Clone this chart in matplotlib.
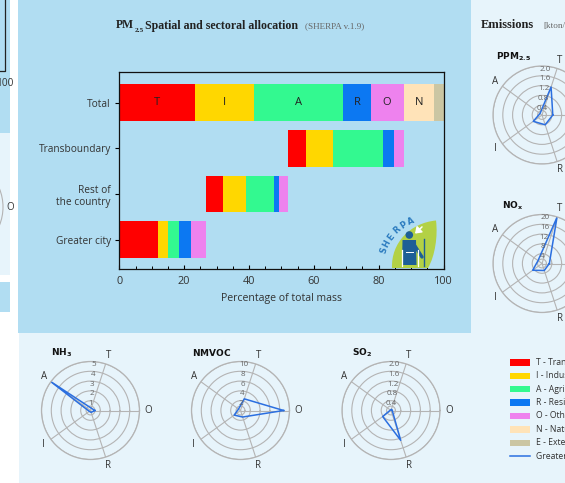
import numpy as np
import matplotlib
matplotlib.use("Agg")
import matplotlib.pyplot as plt
from matplotlib.patches import Rectangle, Circle, PathPatch, Polygon
from matplotlib.path import Path

plt.rcParams["font.family"] = ["Open Sans", "DejaVu Sans"]
plt.rcParams["mathtext.fontset"] = "dejavusans"

W, H = 565, 483

# ---------------- data ----------------
sectors = ["T", "I", "A", "R", "O"]
extra_sectors = ["N", "E"]
sector_names = ["T - Transport", "I - Industry", "A - Agriculture",
                "R - Residential", "O - Other", "N - Natural", "E - External"]
sector_colors = ["#ff0000", "#ffd700", "#33f990", "#0c78f2",
                 "#ee82ee", "#ffe3b8", "#cbc6a3"]

# share of total PM2.5 mass (%) per sector and origin
greater_city = [12.0, 3.0, 3.4, 3.8, 4.4]
rest_of_country = [5.5, 6.9, 8.8, 1.4, 2.7]
transboundary = [5.7, 8.4, 15.4, 3.2, 3.1]
natural = 9.3
external = 3.0
bar_labels = ["Greater city", "Rest of\nthe country", "Transboundary", "Total"]
x_ticks = [0, 20, 40, 60, 80, 100]

# greater-city emissions per sector (T, I, A, R, O), kton/year
radar_angles = [72, 216, 144, 288, 0]
emis_ppm25 = [1.2, 0.44, 0.1, 0.42, 0.44]
emis_nox = [19.8, 4.7, 2.0, 3.0, 3.0]
emis_nh3 = [0.25, 0.15, 5.0, 0.2, 0.45]
emis_nmvoc = [2.5, 1.6, 0.5, 1.4, 8.8]
emis_so2 = [0.05, 0.42, 0.03, 1.28, 0.05]
ticks_pm = [0.4, 0.8, 1.2, 1.6, 2.0]
ticks_nox = [4, 8, 12, 16, 20]
ticks_nh3 = [1, 2, 3, 4, 5]
ticks_nmvoc = [2, 4, 6, 8, 10]

PANEL = "#b1ddf2"
LIGHT = "#e7f4fb"
LINE = "#2b6fe0"
GRID = "#b4b4b4"
TXT = "#333333"


def px_rect(x0, y0, x1, y1):
    return [x0 / W, 1 - y1 / H, (x1 - x0) / W, (y1 - y0) / H]


fig = plt.figure(figsize=(W / 100, H / 100), dpi=100)
fig.patch.set_facecolor("white")

# ---------------- page background ----------------
bg = fig.add_axes([0, 0, 1, 1], zorder=-10)
bg.set_xlim(0, W)
bg.set_ylim(H, 0)
bg.axis("off")
bg.add_patch(Rectangle((18, 0), 453, 333, color=PANEL, lw=0))
bg.add_patch(Rectangle((471, 0), 94, 333, color=LIGHT, lw=0))
bg.add_patch(Rectangle((19, 333), 546, 150, color=LIGHT, lw=0))
strip_top = Rectangle((0, 0), 10, 133, color=PANEL, lw=0)
strip_mid = Rectangle((0, 133), 10, 142, color=LIGHT, lw=0)
bg.add_patch(strip_top)
bg.add_patch(strip_mid)
bg.add_patch(Rectangle((0, 282), 10, 30, color=PANEL, lw=0))
# neighbouring panels peeking in from the left
bg.plot([5, 5, 0], [0, 71, 71], color="#222222", lw=0.9, clip_path=strip_top)
t100 = bg.text(5, 83, "100", ha="center", va="center", fontsize=7.3, color=TXT)
t100.set_clip_path(strip_top)
arc = Circle((-46, 207), 49, fill=False, ec=GRID, lw=0.8)
bg.add_patch(arc)
arc.set_clip_path(strip_mid)
tO = bg.text(10.5, 207, "O", ha="center", va="center", fontsize=7, color=TXT)
tO.set_clip_path(strip_mid)

# overlay for titles, logo and legend
ov = fig.add_axes([0, 0, 1, 1], zorder=5)
ov.set_xlim(0, W)
ov.set_ylim(H, 0)
ov.axis("off")
ov.patch.set_alpha(0)

# ---------------- stacked bar chart ----------------
ax = fig.add_axes(px_rect(119.3, 72.3, 443.5, 269))
ax.set_facecolor("none")
rows = [greater_city, rest_of_country, transboundary]
start = 0.0
for i, vals in enumerate(rows):
    left = start
    for v, c in zip(vals, sector_colors):
        ax.barh(i, v, left=left, height=0.8, color=c, lw=0)
        left += v
    start = left

total_vals = [sum(col) for col in zip(*rows)] + [natural, external]
left = 0.0
for lab, v, c in zip(sectors + extra_sectors, total_vals, sector_colors):
    ax.barh(3, v, left=left, height=0.8, color=c, lw=0)
    if lab != "E":
        ax.text(left + v / 2, 3, lab, ha="center", va="center",
                fontsize=8, color="#222222")
    left += v

ax.set_xlim(0, 100)
ax.set_ylim(-0.642, 3.666)
ax.set_yticks(range(len(bar_labels)))
ax.set_yticklabels(bar_labels, fontsize=7.3, color=TXT)
ax.set_xticks(x_ticks)
ax.set_xticklabels([str(t) for t in x_ticks], fontsize=7.8, color=TXT)
ax.set_xticks(np.arange(0, 101, 5), minor=True)
ax.tick_params(axis="x", which="major", direction="in", length=3, pad=5, width=0.8)
ax.tick_params(axis="x", which="minor", direction="in", length=2.2, width=0.7)
ax.tick_params(axis="y", direction="out", length=3, pad=3, width=0.8)
ax.set_xlabel("Percentage of total mass", fontsize=7.6, color=TXT, labelpad=4)
for s in ax.spines.values():
    s.set_linewidth(0.9)
    s.set_color("#111111")

# ---------------- titles ----------------
serif = "Liberation Serif"
ov.text(116, 28.5, "PM", family=serif, weight="bold", fontsize=8.4, color="#222222")
ov.text(134.5, 31.5, "2.5", family=serif, weight="bold", fontsize=5.2, color="#222222")
ov.text(145, 28.5, "Spatial and sectoral allocation", family=serif,
        weight="bold", fontsize=8.6, color="#222222")
ov.text(305, 28.5, "(SHERPA v.1.9)", family=serif, fontsize=6.6, color="#666666")
ov.text(480.5, 28.5, "Emissions", family=serif, weight="bold", fontsize=9, color="#222222")
ov.text(543, 28.5, "[kton/year]", family=serif, fontsize=6.6, color="#666666")

# ---------------- logo ----------------
leaf = Path([(392, 268), (391, 243), (410, 223), (436, 220.5),
             (438, 236), (435, 256), (428, 268), (392, 268)],
            [Path.MOVETO, Path.CURVE4, Path.CURVE4, Path.CURVE4,
             Path.CURVE4, Path.CURVE4, Path.CURVE4, Path.CLOSEPOLY])
ov.add_patch(PathPatch(leaf, fc="#b3d145", ec="none"))
ov.add_patch(Circle((409.3, 235), 3.8, fc="#1d5f96", ec="none"))
ov.add_patch(Polygon([(402.5, 240), (416, 240), (416.5, 265), (402, 265)],
                     closed=True, fc="#1d5f96", ec="none"))
ov.plot([415, 422], [246, 257], color="#1d5f96", lw=2.4, solid_capstyle="round")
ov.plot([423.5, 423.5], [239, 266], color="#1d5f96", lw=1.0)
ov.plot([401.5, 401.5], [250, 266], color="white", lw=0.9)
ov.plot([417.5, 417.5], [250, 266], color="white", lw=0.9)
ov.plot([406, 412.5], [252, 252], color="white", lw=0.7)
ov.annotate("", xy=(413, 235.5), xytext=(424, 225),
            arrowprops=dict(arrowstyle="-|>,head_length=0.35,head_width=0.25",
                            color="white", lw=1.1))
for ch, (lx, ly), rot in zip("SHERPA",
                             [(383.5, 250.5), (386.3, 243.5), (390.8, 236.8),
                              (396.6, 230.4), (403.3, 225.3), (410.7, 221.2)],
                             [72, 62, 52, 42, 32, 23]):
    ov.text(lx, ly, ch, ha="center", va="center", rotation=rot,
            fontsize=6, weight="bold", color="#2b7bbf", family="DejaVu Sans")


# ---------------- emission radars ----------------
def radar(cx, cy, title, values, ticks):
    R = 49
    pax = fig.add_axes(px_rect(cx - R, cy - R, cx + R, cy + R), projection="polar")
    pax.set_facecolor("none")
    rmax = ticks[-1]
    order = np.argsort(radar_angles)
    th = np.deg2rad(np.array(radar_angles, dtype=float)[order])
    rv = np.array(values, dtype=float)[order]
    pax.plot(np.append(th, th[0]), np.append(rv, rv[0]), color=LINE, lw=1.1)
    pax.set_ylim(0, rmax)
    pax.set_xticks(th)
    pax.set_xticklabels([])
    pax.set_yticks([rmax * 0.09] + list(ticks))
    pax.set_yticklabels([])
    pax.grid(True, color=GRID, lw=0.8)
    pax.spines["polar"].set_color(GRID)
    pax.spines["polar"].set_linewidth(0.9)
    pax.tick_params(length=0)
    for lab, ang in zip(sectors, radar_angles):
        pax.text(np.deg2rad(ang), rmax * 1.18, lab, ha="center", va="center",
                 fontsize=7, color=TXT, clip_on=False)
    for t in ticks:
        lab = f"{t:.1f}" if isinstance(t, float) else str(t)
        pax.text(np.deg2rad(86), t - rmax * 0.06, lab, ha="center", va="center",
                 fontsize=5.8, color="#666666")
    ov.text(cx - 29, cy - 58, title, ha="center", va="center",
            fontsize=6.5, color="#111111")


radar(542, 115, r"$\mathbf{PPM_{2.5}}$", emis_ppm25, ticks_pm)
radar(542, 263.5, r"$\mathbf{NO_x}$", emis_nox, ticks_nox)
radar(90.5, 410.5, r"$\mathbf{NH_3}$", emis_nh3, ticks_nh3)
radar(240.5, 410.5, r"$\mathbf{NMVOC}$", emis_nmvoc, ticks_nmvoc)
radar(391, 410.5, r"$\mathbf{SO_2}$", emis_so2, ticks_pm)

# ---------------- legend ----------------
ly0, dy = 362.3, 13.4
for k, (name, col) in enumerate(zip(sector_names, sector_colors)):
    y = ly0 + k * dy
    ov.add_patch(Rectangle((510, y - 3.2), 19.5, 6.4, fc=col, ec="none"))
    ov.text(536.5, y, name, ha="left", va="center", fontsize=6.2, color=TXT)
y = ly0 + len(sector_names) * dy
ov.plot([510, 529.5], [y, y], color=LINE, lw=1.1)
ov.text(536.5, y, "Greater city", ha="left", va="center", fontsize=6.2, color=TXT)

fig.savefig("out.png", dpi=100, facecolor=fig.get_facecolor())
